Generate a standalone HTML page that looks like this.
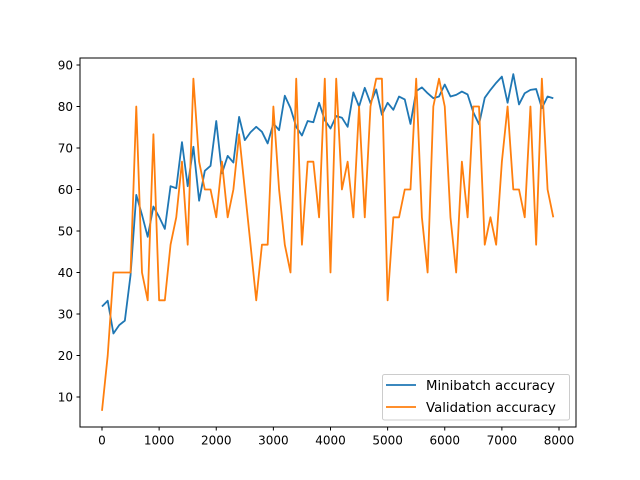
<!DOCTYPE html>
<html><head><meta charset="utf-8"><style>body{margin:0;background:#fff}svg{display:block}text{font-family:"DejaVu Sans","Liberation Sans",sans-serif;fill:#000}</style></head>
<body>
<svg id="chart" width="640" height="480">
<rect x="0" y="0" width="640" height="480" fill="#fff"/>
<g id="ticks"></g>
<g id="series"></g>
<rect x="80" y="58" width="496" height="369" fill="none" stroke="#000" stroke-width="1"/>
<g>
<rect x="382.5" y="374.5" width="187" height="45.5" rx="2" fill="#fff" fill-opacity="0.8" stroke="#ccc"/>
<line x1="386" y1="385" x2="416" y2="385" stroke="#1f77b4" stroke-width="1.8"/>
<text x="426" y="390" style="font-size:13.3px">Minibatch accuracy</text>
<line x1="386" y1="407" x2="416" y2="407" stroke="#ff7f0e" stroke-width="1.8"/>
<text x="426" y="412" style="font-size:13.3px">Validation accuracy</text>
</g>
</svg>
<script>
const xTicks=[0,1000,2000,3000,4000,5000,6000,7000,8000];
const yTicks=[10,20,30,40,50,60,70,80,90];
const steps=[];for(let i=0;i<80;i++)steps.push(i*100);
const minibatch=[31.8,33.2,25.3,27.3,28.4,39.4,58.7,53.9,48.6,55.9,53.4,50.5,60.8,60.3,71.4,60.8,70.3,57.3,64.5,65.7,76.5,63.9,68.1,66.5,77.5,71.9,73.8,75.1,73.9,71.1,75.9,74.3,82.6,79.6,75.1,73.0,76.5,76.2,80.9,76.7,74.7,77.7,77.3,75.1,83.4,80.0,84.5,80.8,84.1,78.0,80.9,79.2,82.4,81.7,75.8,83.7,84.6,83.2,82.0,82.4,85.3,82.4,82.8,83.6,82.9,78.6,75.7,82.1,84.0,85.7,87.2,80.9,87.8,80.5,83.2,84.0,84.2,79.6,82.4,82.0];
const validation=[6.67,20,40,40,40,40,80,40,33.3,73.3,33.3,33.3,46.7,53.3,66.7,46.7,86.7,66.7,60,60,53.3,66.7,53.3,60,73.3,60,46.7,33.3,46.7,46.7,80,60,46.7,40,86.7,46.7,66.7,66.7,53.3,86.7,40,86.7,60,66.7,53.3,80,53.3,80,86.7,86.7,33.3,53.3,53.3,60,60,86.7,53.3,40,80,86.7,80,53.3,40,66.7,53.3,80,80,46.7,53.3,46.7,66.7,80,60,60,53.3,80,46.7,86.7,60,53.3];
const xs=v=>102+v*0.057125;
const ys=v=>65+(90-v)*4.15;
const NS='http://www.w3.org/2000/svg';
const tg=document.getElementById('ticks');
xTicks.forEach(t=>{
 const l=document.createElementNS(NS,'line');
 l.setAttribute('x1',xs(t));l.setAttribute('x2',xs(t));l.setAttribute('y1',427);l.setAttribute('y2',430.5);l.setAttribute('stroke','#000');
 
 
 tg.appendChild(l);
 const tx=document.createElementNS(NS,'text');
 tx.setAttribute('x',xs(t));tx.setAttribute('y',444.5);tx.setAttribute('text-anchor','middle');tx.setAttribute('style','font-size:12px');tx.textContent=t;
 
 
 tg.appendChild(tx);
});
yTicks.forEach(t=>{
 const l=document.createElementNS(NS,'line');
 l.setAttribute('x1',76.5);l.setAttribute('x2',80);l.setAttribute('y1',ys(t));l.setAttribute('y2',ys(t));l.setAttribute('stroke','#000');
 
 
 tg.appendChild(l);
 const tx=document.createElementNS(NS,'text');
 tx.setAttribute('x',73);tx.setAttribute('y',ys(t)+4.3);tx.setAttribute('text-anchor','end');tx.setAttribute('style','font-size:12px');tx.textContent=t;
 
 
 tg.appendChild(tx);
});
const sg=document.getElementById('series');
function drawLine(vals,color,name){
 const p=document.createElementNS(NS,'polyline');
 p.setAttribute('points',vals.map((v,i)=>xs(steps[i])+','+ys(v)).join(' '));
 p.setAttribute('fill','none');p.setAttribute('stroke',color);p.setAttribute('stroke-width','1.8');p.setAttribute('stroke-linejoin','round');
 
 
 sg.appendChild(p);
}
drawLine(minibatch,'#1f77b4','minibatch-accuracy-line');
drawLine(validation,'#ff7f0e','validation-accuracy-line');
</script>
</body></html>
